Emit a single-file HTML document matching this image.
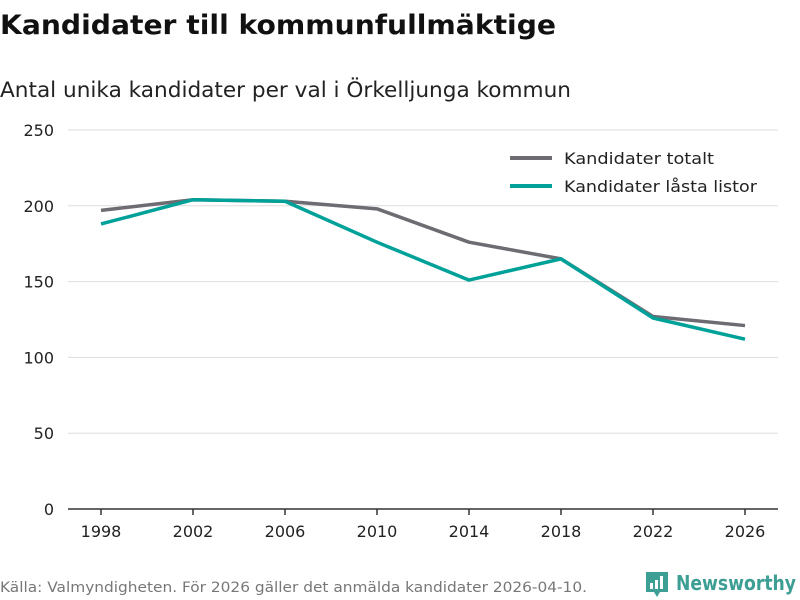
<!DOCTYPE html>
<html><head><meta charset="utf-8"><style>
body{margin:0;background:#fff;}
svg{display:block;font-family:"DejaVu Sans","Liberation Sans",sans-serif;}
</style></head><body>
<svg id="chart" width="800" height="600" viewBox="0 0 800 600">
<text x="0" y="34" font-size="27" font-weight="bold" fill="#111" textLength="556" lengthAdjust="spacingAndGlyphs">Kandidater till kommunfullmäktige</text>
<text x="0" y="97" font-size="21" fill="#222" textLength="571" lengthAdjust="spacingAndGlyphs">Antal unika kandidater per val i Örkelljunga kommun</text>
<g id="grid"></g><g id="axes"></g><g id="series"></g>
<g>
<line x1="510" y1="158" x2="552" y2="158" stroke="#6e6b72" stroke-width="4"/>
<text x="564" y="164" font-size="16" fill="#222" textLength="150" lengthAdjust="spacingAndGlyphs">Kandidater totalt</text>
<line x1="510" y1="186" x2="552" y2="186" stroke="#00a199" stroke-width="4"/>
<text x="564" y="192" font-size="16" fill="#222" textLength="193" lengthAdjust="spacingAndGlyphs">Kandidater låsta listor</text>
</g>
<text x="0" y="592" font-size="14" fill="#777" textLength="587" lengthAdjust="spacingAndGlyphs">Källa: Valmyndigheten. För 2026 gäller det anmälda kandidater 2026-04-10.</text>
<g>
<path d="M646 572h22v20h-8l-3 5-3-5h-8z" fill="#3d9e94"/>
<rect x="650" y="583" width="3" height="6" fill="#fff"/><rect x="655" y="580" width="3" height="9" fill="#fff"/><rect x="660" y="576" width="3" height="13" fill="#fff"/>
<text x="676" y="590" font-size="20" font-weight="bold" fill="#3d9e94" textLength="120" lengthAdjust="spacingAndGlyphs">Newsworthy</text>
</g>
</svg>
<script>
const years=[1998,2002,2006,2010,2014,2018,2022,2026];
const totalt=[197,204,203,198,176,165,127,121];
const lasta=[188,204,203,176,151,165,126,112];
const yTicks=[0,50,100,150,200,250];
const NS="http://www.w3.org/2000/svg";
const x=y=>101+(y-1998)/4*92;
const yS=v=>509-v*(379/250);
function mk(tag,attrs,parent){const e=document.createElementNS(NS,tag);for(const k in attrs)e.setAttribute(k,attrs[k]);document.getElementById(parent).appendChild(e);return e;}
yTicks.forEach(t=>{
 if(t>0){const g=mk('line',{x1:68,x2:778,y1:yS(t),y2:yS(t),stroke:'#ddd','stroke-width':1},'grid');
 
 }
 const l=mk('text',{x:54,y:yS(t)+6,'font-size':16,fill:'#222','text-anchor':'end'},'axes');l.textContent=t;
 
 
});
const ax=mk('line',{x1:68,x2:778,y1:509,y2:509,stroke:'#333','stroke-width':1.5},'axes');


years.forEach(yr=>{
 const tk=mk('line',{x1:x(yr),x2:x(yr),y1:509,y2:515,stroke:'#333','stroke-width':1.5},'axes');
 
 
 const l=mk('text',{x:x(yr),y:537,'font-size':16,fill:'#222','text-anchor':'middle'},'axes');l.textContent=yr;
 
 
});
function line(vals,color,name){
 const p=mk('polyline',{points:vals.map((v,i)=>x(years[i])+','+yS(v)).join(' '),fill:'none',stroke:color,'stroke-width':3.5,'stroke-linejoin':'round'},'series');
 
 
}
line(totalt,'#6e6b72','series-totalt');
line(lasta,'#00a199','series-lasta-listor');
</script>
</body></html>
